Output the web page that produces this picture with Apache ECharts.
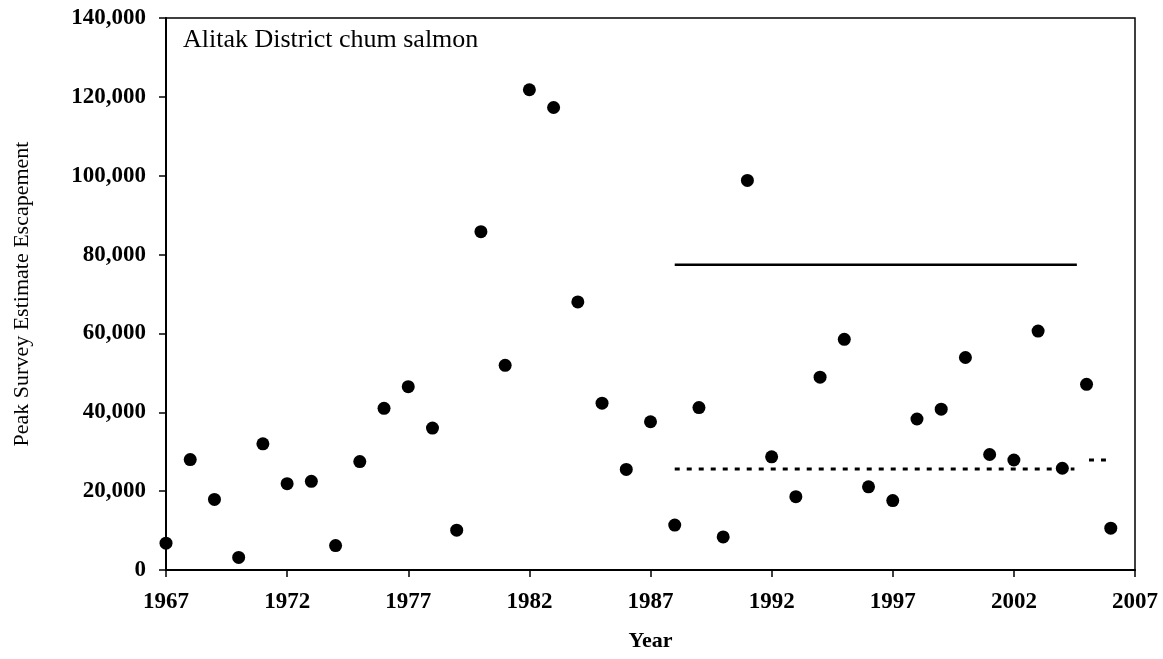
<!DOCTYPE html>
<html>
<head>
<meta charset="utf-8">
<title>Alitak District chum salmon</title>
<script src="https://cdn.jsdelivr.net/npm/echarts@6/dist/echarts.min.js"></script>
<style>
  html, body { margin: 0; padding: 0; background: #fff; }
  #chart { width: 1163px; height: 659px; }
</style>
</head>
<body>
<div id="chart"></div>
<script>
// peak survey escapement by year
var years = [1967, 1968, 1969, 1970, 1971, 1972, 1973, 1974, 1975, 1976,
             1977, 1978, 1979, 1980, 1981, 1982, 1983, 1984, 1985, 1986,
             1987, 1988, 1989, 1990, 1991, 1992, 1993, 1994, 1995, 1996,
             1997, 1998, 1999, 2000, 2001, 2002, 2003, 2004, 2005, 2006];
var escapement = [6800, 28000, 17900, 3200, 32000, 21900, 22500, 6200, 27500, 41000,
                  46500, 36000, 10100, 85800, 51900, 121800, 117300, 68000, 42300, 25500,
                  37600, 11400, 41200, 8400, 98800, 28700, 18600, 48900, 58500, 21100,
                  17600, 38300, 40800, 53900, 29300, 27900, 60600, 25800, 47100, 10600];

// goal lines
var upperLine = [[1988, 77400], [2004.6, 77400]];
var lowerLine = [[1988, 25600], [2004.5, 25600]];
var lowerTail = [[2005.1, 27900], [2005.8, 27900]];

var xTicks = [1967, 1972, 1977, 1982, 1987, 1992, 1997, 2002, 2007];

var font = "'Liberation Serif', 'Times New Roman', serif";

var points = [];
for (var i = 0; i < years.length; i++) {
    points.push([years[i], escapement[i]]);
}

var myChart = echarts.init(document.getElementById('chart'));

var option = {
    animation: false,
    backgroundColor: '#fff',
    title: {
        text: 'Alitak District chum salmon',
        left: 183,
        top: 27,
        padding: 0,
        textStyle: { fontFamily: font, fontSize: 26, fontWeight: 'normal', color: '#000' }
    },
    grid: {
        left: 166,
        right: 28,
        top: 18,
        bottom: 89,
        show: true,
        borderColor: '#000',
        borderWidth: 1.5
    },
    xAxis: {
        type: 'value',
        min: 1967,
        max: 2007,
        name: 'Year',
        nameLocation: 'middle',
        nameGap: 60,
        nameTextStyle: { fontFamily: font, fontSize: 22, fontWeight: 'bold', color: '#000' },
        axisLine: { lineStyle: { color: '#000', width: 2 } },
        axisTick: { show: true, length: 7, customValues: xTicks, lineStyle: { color: '#000', width: 1.5 } },
        axisLabel: {
            customValues: xTicks,
            margin: 21,
            fontFamily: font, fontSize: 23, fontWeight: 'bold', color: '#000',
            formatter: function (v) { return String(v); }
        },
        splitLine: { show: false }
    },
    yAxis: {
        type: 'value',
        min: 0,
        max: 140000,
        interval: 20000,
        name: 'Peak Survey Estimate Escapement',
        nameLocation: 'middle',
        nameGap: 133,
        nameTextStyle: { fontFamily: font, fontSize: 22, fontWeight: 'normal', color: '#000' },
        axisLine: { show: true, lineStyle: { color: '#000', width: 2 } },
        axisTick: { show: true, length: 7, lineStyle: { color: '#000', width: 1.5 } },
        axisLabel: {
            margin: 20,
            fontFamily: font, fontSize: 23, fontWeight: 'bold', color: '#000',
            formatter: function (v) { return v.toLocaleString('en-US'); }
        },
        splitLine: { show: false }
    },
    series: [
        {
            name: 'upper',
            type: 'line',
            data: upperLine,
            symbol: 'none',
            lineStyle: { color: '#000', width: 2.5 },
            z: 2
        },
        {
            name: 'lower',
            type: 'line',
            data: lowerLine,
            symbol: 'none',
            lineStyle: { color: '#000', width: 3, type: [5, 7] },
            z: 2
        },
        {
            name: 'lowerTail',
            type: 'line',
            data: lowerTail,
            symbol: 'none',
            lineStyle: { color: '#000', width: 3, type: [5, 7] },
            z: 2
        },
        {
            name: 'escapement',
            type: 'scatter',
            data: points,
            symbol: 'circle',
            symbolSize: 13,
            itemStyle: { color: '#000', opacity: 1 },
            z: 3
        }
    ]
};

myChart.setOption(option);
</script>
</body>
</html>
